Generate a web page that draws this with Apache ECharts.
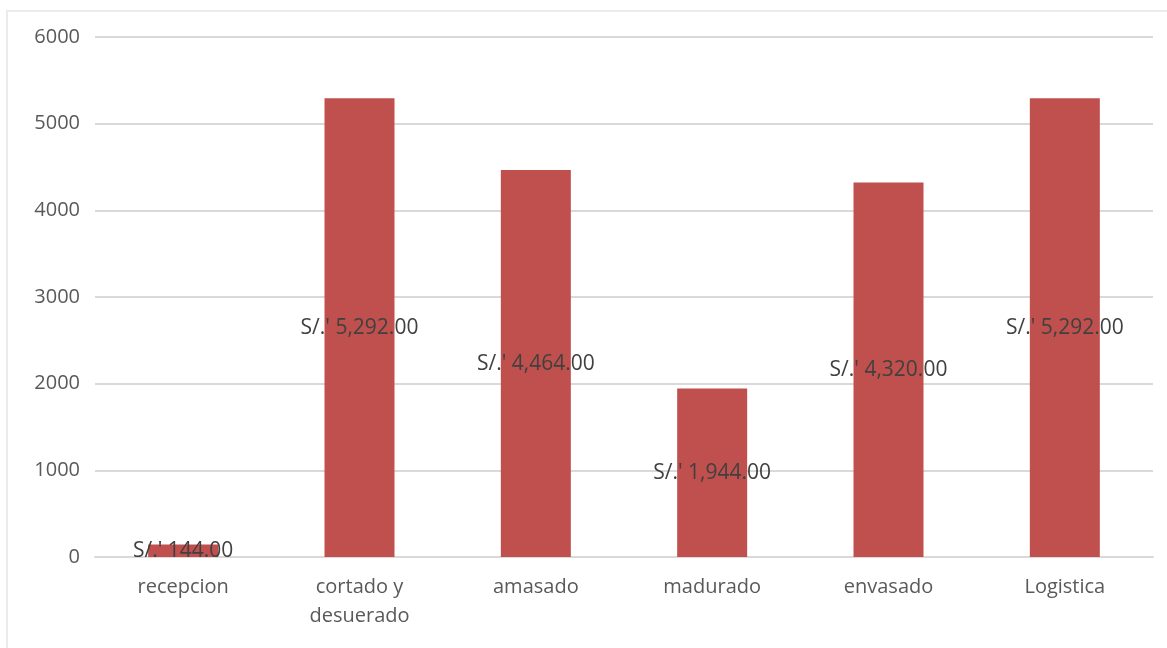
<!DOCTYPE html>
<html>
<head>
<meta charset="utf-8">
<script src="https://cdn.jsdelivr.net/npm/echarts@6/dist/echarts.min.js"></script>
<style>
  html, body { margin: 0; padding: 0; background: #fff; }
  #frame {
    position: absolute; left: 6px; top: 10px; width: 1161px; height: 638px;
    border-top: 2px solid #ebebeb; border-left: 2px solid #ebebeb;
  }
  #chart { position: absolute; left: 0; top: 0; width: 1167px; height: 648px; }
</style>
</head>
<body>
<div id="frame"></div>
<div id="chart"></div>
<script>
// categorias y costos
const categorias = ["recepcion", "cortado y\ndesuerado", "amasado", "madurado", "envasado", "Logistica"];
const costos = [144, 5292, 4464, 1944, 4320, 5292];
const ejeY = [0, 1000, 2000, 3000, 4000, 5000, 6000];

const chart = echarts.init(document.getElementById("chart"));

const option = {
  backgroundColor: "transparent",
  animation: false,
  textStyle: { fontFamily: "Open Sans" },
  grid: {
    left: 95,
    right: 14,
    top: 37,
    bottom: 91,
  },
  xAxis: {
    type: "category",
    data: categorias,
    axisLine: { show: true, lineStyle: { color: "#d9d9d9", width: 2 } },
    axisTick: { show: false },
    axisLabel: {
      color: "#595959",
      fontSize: 20,
      lineHeight: 29,
      margin: 16,
      interval: 0,
    },
  },
  yAxis: {
    type: "value",
    min: ejeY[0],
    max: ejeY[ejeY.length - 1],
    interval: 1000,
    axisLine: { show: false },
    axisTick: { show: false },
    splitLine: { lineStyle: { color: "#d9d9d9", width: 2 } },
    axisLabel: {
      color: "#595959",
      fontSize: 20,
      margin: 15,
      formatter: (v) => String(v),
    },
  },
  series: [
    {
      type: "bar",
      data: costos,
      barWidth: 70,
      itemStyle: { color: "#c0504d" },
      label: {
        show: true,
        position: "inside",
        color: "#404040",
        fontSize: 21,
        formatter: (p) =>
          "S/.' " + p.value.toLocaleString("en-US", { minimumFractionDigits: 2, maximumFractionDigits: 2 }),
      },
    },
  ],
};

chart.setOption(option);
</script>
</body>
</html>
